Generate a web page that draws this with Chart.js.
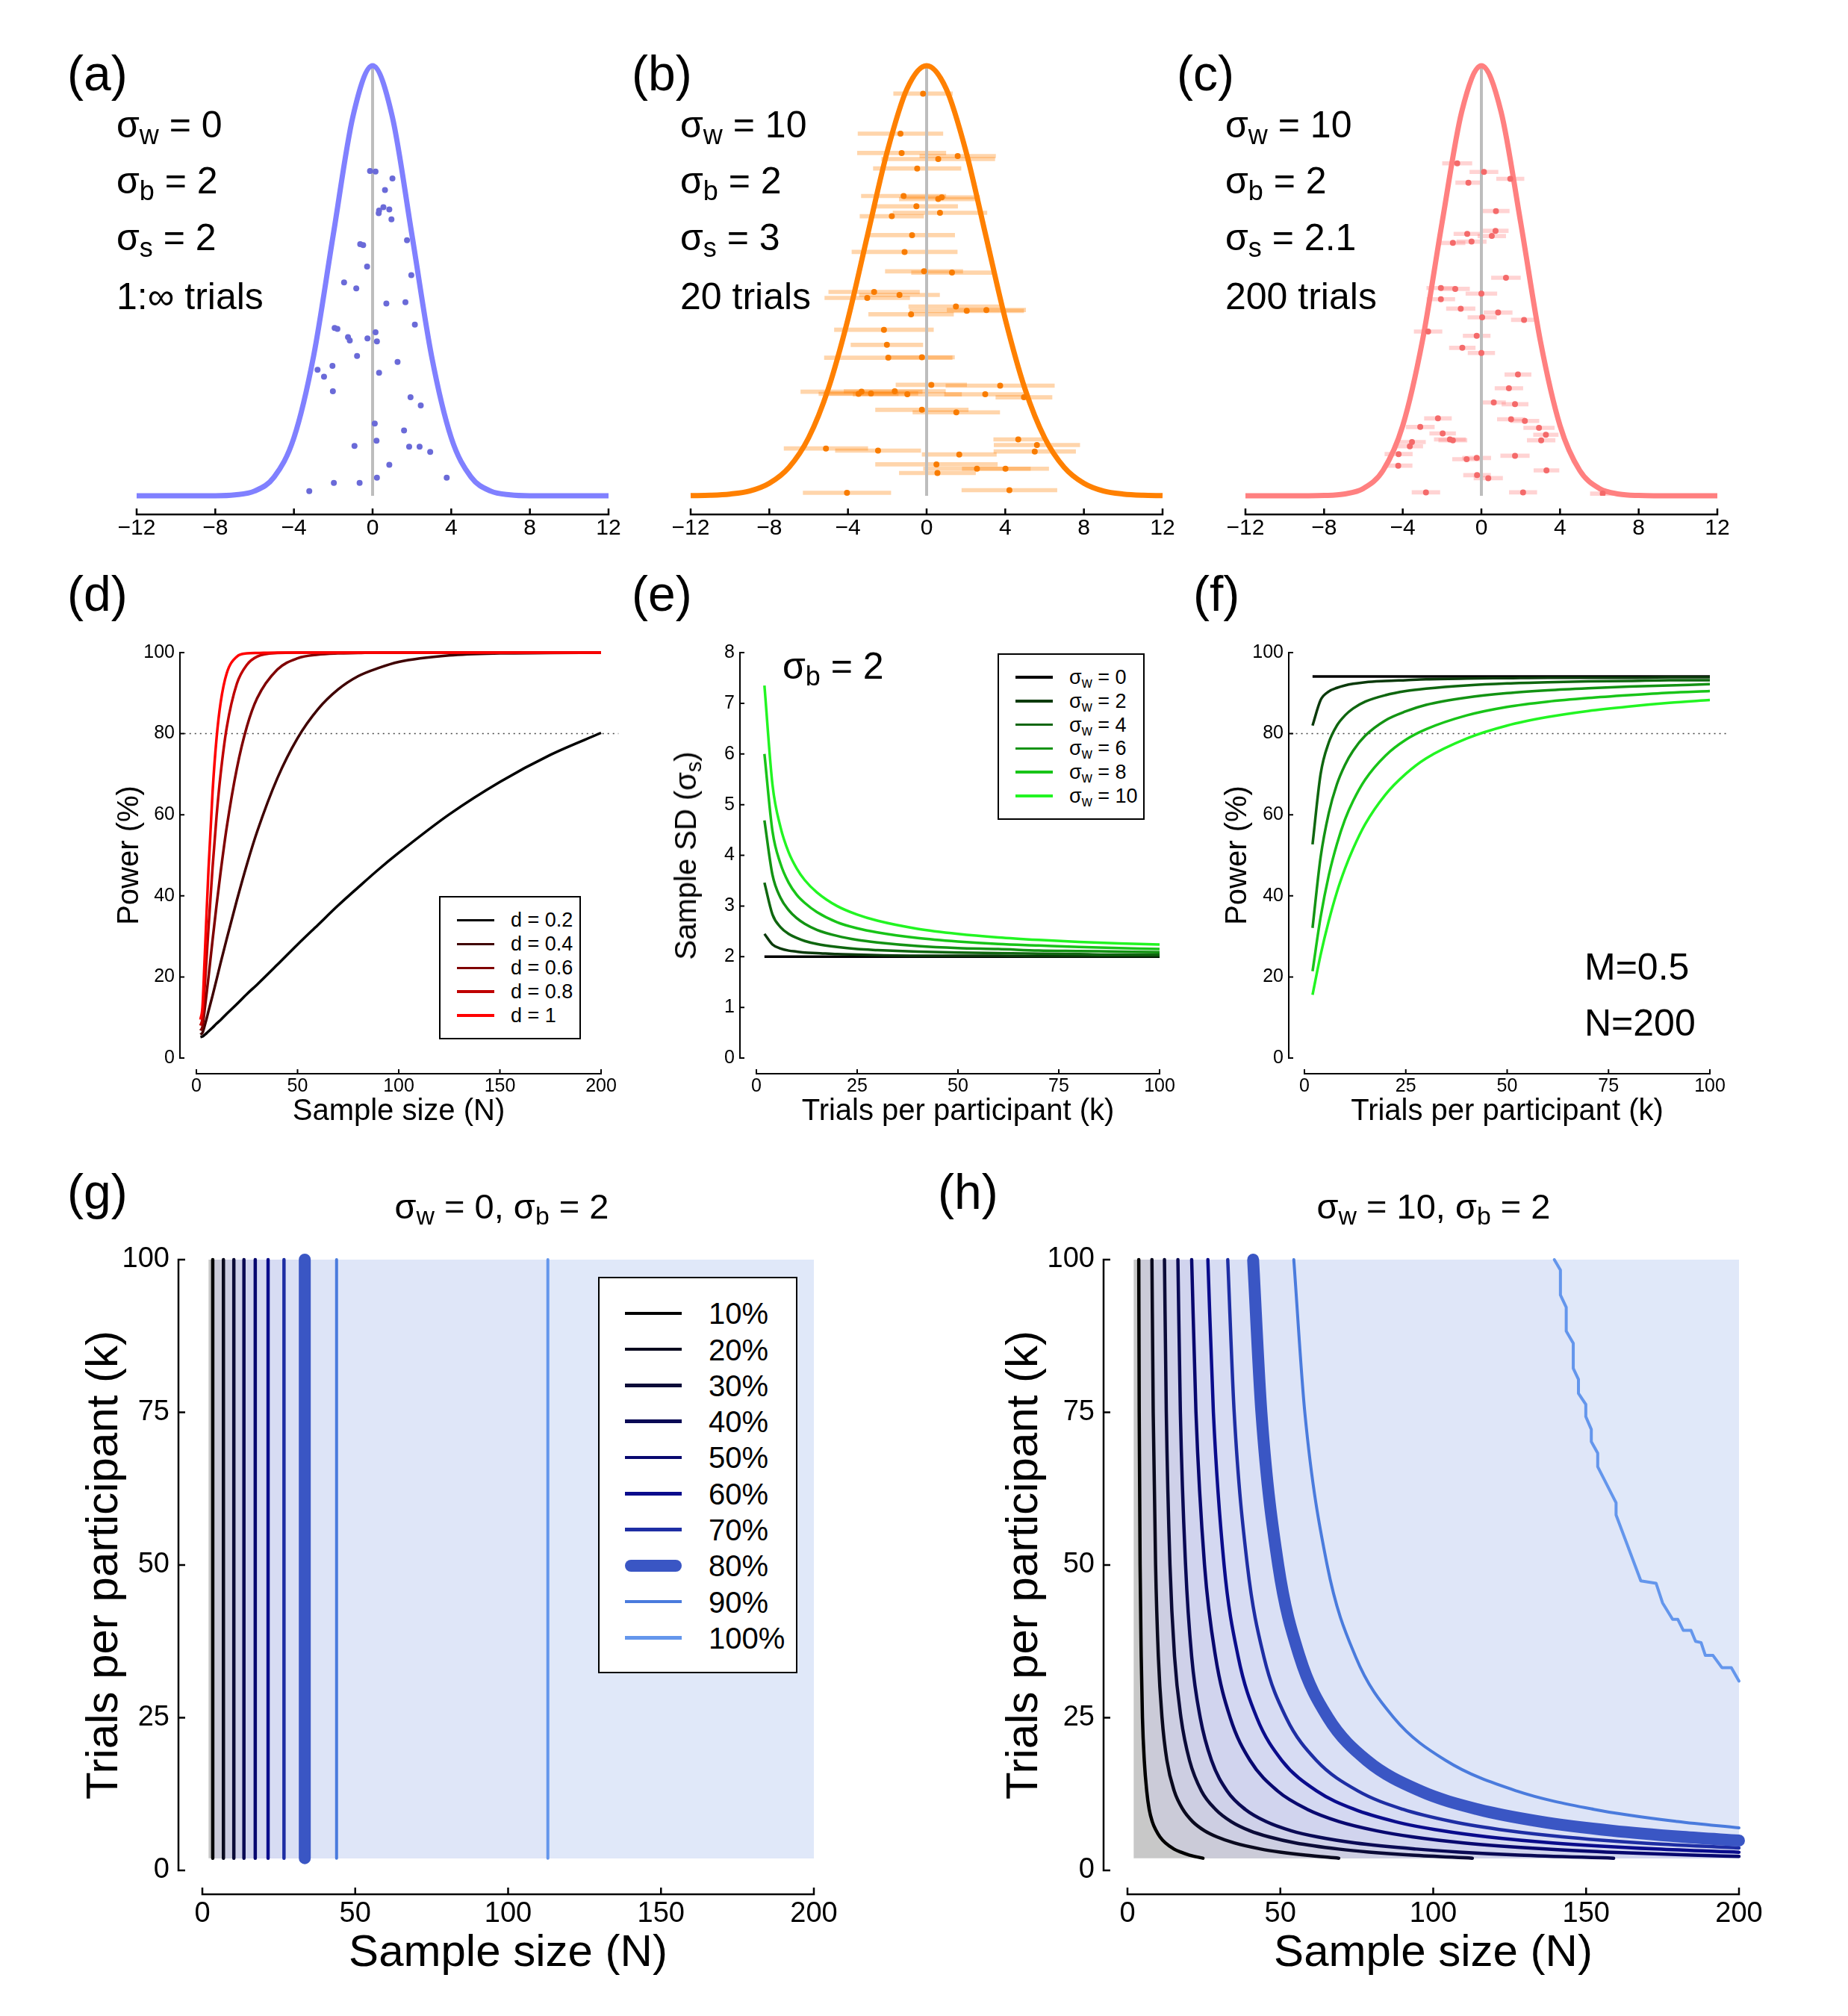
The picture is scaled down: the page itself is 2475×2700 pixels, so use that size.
<!DOCTYPE html>
<html>
<head>
<meta charset="utf-8">
<script src="https://cdn.jsdelivr.net/npm/chart.js@4.4.1/dist/chart.umd.min.js"></script>
<style>
html,body{margin:0;padding:0;background:#fff}
body{width:2475px;height:2700px;position:relative;overflow:hidden;font-family:'Liberation Sans',Arial,Helvetica,sans-serif;color:#000}
canvas{position:absolute;z-index:1}
.t{position:absolute;white-space:nowrap;z-index:4}
.t sub{font-size:.72em;vertical-align:-.25em;line-height:0}
.lg{position:absolute;border-style:solid;border-color:#000;background:#fff;box-sizing:border-box;z-index:2}
.sw{position:absolute;z-index:3}
</style>
</head>
<body>
<script>
// ---------- top row: normalised densities, participant means, error bars ----------
const pdfX = [-12,-11,-10,-9,-8,-7,-6,-5,-4,-3,-2,-1,0,1,2,3,4,5,6,7,8,9,10,11,12];
const pdfA = [0,0,0,0,0,0.002,0.011,0.044,0.135,0.325,0.607,0.882,1,0.882,0.607,0.325,0.135,0.044,0.011,0.002,0,0,0,0,0];
const pdfB = [0.0003,0.0012,0.004,0.011,0.029,0.066,0.135,0.249,0.411,0.607,0.801,0.946,1,0.946,0.801,0.607,0.411,0.249,0.135,0.066,0.029,0.011,0.004,0.0012,0.0003];
const pdfC = [0,0,0,0.0001,0.0007,0.004,0.017,0.059,0.163,0.360,0.635,0.893,1,0.893,0.635,0.360,0.163,0.059,0.017,0.004,0.0007,0.0001,0,0,0];
const topTicks = [-12,-8,-4,0,4,8,12];

const aX = [-0.13,0.15,1.01,0.63,0.33,0.55,0.85,0.31,0.96,1.75,-0.63,-0.48,-0.28,1.97,-1.45,-0.83,0.70,1.67,2.15,-1.93,-1.79,0.15,-1.25,-1.16,-0.26,0.22,-0.79,1.27,-2.80,-2.04,-2.47,0.33,-2.02,1.93,2.45,0.11,1.60,0.20,-0.92,1.86,2.39,2.93,0.85,0.22,3.77,-1.97,-0.66,-3.22];
const aY = [0.755,0.754,0.738,0.711,0.663,0.671,0.666,0.657,0.643,0.594,0.585,0.583,0.533,0.513,0.496,0.482,0.447,0.450,0.398,0.390,0.388,0.380,0.369,0.361,0.366,0.359,0.325,0.311,0.293,0.302,0.277,0.286,0.243,0.229,0.210,0.168,0.152,0.128,0.116,0.114,0.114,0.102,0.072,0.042,0.042,0.030,0.030,0.011];

const bX = [-0.18,-1.33,-1.27,1.58,0.59,-0.48,-1.17,0.77,0.59,-0.52,0.68,-1.77,-0.74,-1.12,-0.13,1.29,-2.67,-1.38,-3.02,1.49,2.04,3.04,-0.79,-2.17,-2.02,-1.95,-0.24,0.24,3.74,-3.31,-3.46,-2.83,-1.62,-0.98,2.98,4.95,-0.24,1.51,4.66,5.61,5.50,-5.12,-2.47,1.66,0.50,2.56,4.01,0.55,-4.05,4.21];
const bY = [0.935,0.842,0.797,0.790,0.783,0.761,0.697,0.694,0.690,0.673,0.658,0.650,0.606,0.567,0.522,0.519,0.474,0.467,0.460,0.440,0.430,0.432,0.422,0.386,0.351,0.321,0.322,0.258,0.256,0.242,0.237,0.238,0.243,0.236,0.236,0.229,0.200,0.194,0.131,0.118,0.103,0.110,0.105,0.096,0.073,0.063,0.063,0.053,0.007,0.013];
const bErr = [1.5,2.16,2.25,1.93,2.88,2.23,2.15,1.93,1.98,2.10,2.39,1.62,2.17,2.68,1.97,2.06,2.31,2.04,2.16,2.40,2.90,2.0,2.16,2.52,1.83,3.25,1.66,1.80,2.76,3.09,2.02,2.39,2.58,2.76,2.07,1.43,2.36,2.21,1.25,2.18,2.08,2.13,2.17,1.89,3.10,2.72,2.20,1.94,2.23,2.42];

const cX = [-1.23,0.13,1.47,-0.66,0.74,0.72,-0.72,0.53,-1.45,-0.50,1.25,-2.06,-1.33,0.00,-2.06,-1.05,0.85,0.04,2.17,-2.71,-0.24,-0.97,0.00,1.86,1.40,0.63,1.71,-2.21,1.51,2.21,-3.11,2.93,-1.97,3.28,-1.60,-1.45,3.04,-3.53,-3.64,-4.21,1.71,-0.24,-0.75,-4.23,3.31,-0.22,0.35,-2.82,2.12,6.17];
const cY = [0.773,0.753,0.737,0.728,0.662,0.616,0.609,0.604,0.588,0.591,0.507,0.483,0.481,0.470,0.457,0.435,0.426,0.415,0.409,0.382,0.372,0.344,0.332,0.282,0.250,0.217,0.213,0.180,0.178,0.174,0.160,0.158,0.145,0.142,0.131,0.129,0.129,0.125,0.115,0.097,0.093,0.088,0.085,0.070,0.059,0.048,0.041,0.008,0.008,0.005];
const cErr = [0.75,0.72,0.70,0.65,0.68,0.65,0.68,0.71,0.62,0.75,0.74,0.72,0.73,0.79,0.71,0.73,0.72,0.73,0.65,0.71,0.69,0.66,0.68,0.67,0.71,0.60,0.67,0.69,0.70,0.72,0.72,0.78,0.66,0.63,0.80,0.72,0.71,0.69,0.66,0.70,0.73,0.72,0.72,0.71,0.64,0.69,0.73,0.71,0.70,0.63];

// ---------- (d) power vs sample size ----------
const dN = [2,3,4,5,6,8,10,12,15,20,25,30,40,50,60,70,80,90,100,125,150,175,200];
const dLabels = ['d = 0.2','d = 0.4','d = 0.6','d = 0.8','d = 1'];
const d02 = [5.2,5.3,5.7,6.1,6.6,7.5,8.5,9.4,10.9,13.3,15.8,18.1,23.0,28.0,32.8,37.6,42.1,46.5,50.6,60.1,68.1,74.8,80.2];
const d04 = [5.8,6.2,7.8,9.6,11.6,15.4,19.4,23.5,29.4,38.9,47.8,55.8,69.0,78.9,86.0,90.9,94.2,96.2,97.7,99.3,99.8,99.9,100];
const d06 = [6.8,7.7,11.5,15.7,20.0,29.1,37.8,45.9,56.9,71.4,81.8,88.7,95.8,98.6,99.5,99.8,99.9,100,100,100,100,100,100];
const d08 = [8.0,9.8,16.7,24.3,32.2,47.0,59.8,70.1,81.5,92.3,97.0,99.0,99.9,100,100,100,100,100,100,100,100,100,100];
const d10 = [9.5,12.5,23.4,35.2,46.6,65.6,79.0,87.7,94.9,99.0,99.8,99.9,100,100,100,100,100,100,100,100,100,100,100];
const dColors = ['#000000','#3f0000','#7f0000','#bf0000','#ff0000'];

// ---------- (e)/(f) trials per participant ----------
const kVals = [2,4,6,8,10,12,15,20,25,30,40,50,60,70,80,90,100];
const wLabels = ['0','2','4','6','8','10'];
const e0 = [2,2,2,2,2,2,2,2,2,2,2,2,2,2,2,2,2];
const e2 = [2.45,2.24,2.16,2.12,2.10,2.08,2.07,2.05,2.04,2.03,2.02,2.02,2.02,2.01,2.01,2.01,2.01];
const e4 = [3.46,2.83,2.58,2.45,2.37,2.31,2.25,2.19,2.15,2.13,2.10,2.08,2.07,2.06,2.05,2.04,2.04];
const e6 = [4.69,3.61,3.16,2.92,2.76,2.65,2.53,2.41,2.33,2.28,2.21,2.17,2.15,2.12,2.11,2.10,2.09];
const e8 = [6.00,4.47,3.83,3.46,3.22,3.06,2.88,2.68,2.56,2.48,2.37,2.30,2.25,2.22,2.19,2.17,2.15];
const e10 = [7.35,5.39,4.55,4.06,3.74,3.51,3.27,3.00,2.83,2.71,2.55,2.45,2.38,2.33,2.29,2.26,2.24];
const f0 = [94.1,94.1,94.1,94.1,94.1,94.1,94.1,94.1,94.1,94.1,94.1,94.1,94.1,94.1,94.1,94.1,94.1];
const f2 = [82.0,88.3,90.4,91.3,91.9,92.3,92.7,93.0,93.2,93.4,93.6,93.7,93.8,93.8,93.8,93.9,93.9];
const f4 = [52.7,70.1,77.8,82.0,84.5,86.2,87.9,89.5,90.5,91.1,91.9,92.4,92.7,92.9,93.0,93.2,93.2];
const f6 = [32.1,49.6,60.4,67.5,72.3,75.8,79.5,83.3,85.5,87.1,88.9,90.0,90.7,91.2,91.6,91.9,92.2];
const f8 = [21.4,34.8,45.0,52.7,58.8,63.4,68.7,74.6,78.5,81.1,84.5,86.6,87.9,88.8,89.5,90.1,90.5];
const f10 = [15.6,25.5,33.8,40.9,46.7,51.6,57.7,65.0,70.1,73.9,78.8,82.0,84.1,85.6,86.7,87.6,88.3];
const gColors = ['#000000','#0b3a0b','#0f660f','#139313','#18c418','#22f522'];

// ---------- (g)/(h) power contours ----------
const levels = ['10%','20%','30%','40%','50%','60%','70%','80%','90%','100%'];
const gN = [3.4,6.9,10.3,13.6,17.3,21.5,26.7,33.5,43.9,113.0];
const h10 = [[3.7,100],[3.84,75],[4.13,50],[4.5,35],[4.9,25],[5.5,18],[6.3,13],[7.1,10],[8.1,8],[9.4,6.5],[10.6,5.5],[12.4,4.5],[15.2,3.5],[17.4,3],[20.3,2.5],[24.7,2]];
const h20 = [[8.0,100],[8.42,75],[9.2,50],[10.1,35],[11.3,25],[12.9,18],[15.3,13],[18.1,10],[21.3,8],[25.2,6.5],[29.2,5.5],[34.9,4.5],[43.6,3.5],[49.9,3],[58.2,2.5],[69.1,2]];
const h30 = [[12.1,100],[12.7,75],[13.9,50],[15.4,35],[17.5,25],[20.3,18],[24.2,13],[28.8,10],[33.9,8],[40.0,6.5],[46.2,5.5],[55.0,4.5],[69.0,3.5],[79.0,3],[93.0,2.5],[112.8,2]];
const h40 = [[16.5,100],[17.3,75],[19.0,50],[21.0,35],[23.8,25],[27.5,18],[32.6,13],[38.5,10],[45.3,8],[53.5,6.5],[62.0,5.5],[74.5,4.5],[94.5,3.5],[108.5,3],[128,2.5],[159,2]];
const h50 = [[21.0,100],[22.4,75],[25.2,50],[28.8,35],[33.6,25],[40.1,18],[49.1,13],[58.8,10],[69.2,8],[81.4,6.5],[93.1,5.5],[110,4.5],[136.7,3.5],[156.6,3],[184.6,2.5],[200,2.29]];
const h60 = [[26.3,100],[28.1,75],[31.6,50],[36.2,35],[42.3,25],[50.5,18],[61.9,13],[74.2,10],[87.5,8],[102.8,6.5],[117.6,5.5],[139.1,4.5],[172.9,3.5],[200,2.97]];
const h70 = [[32.8,100],[34.9,75],[39.2,50],[44.6,35],[51.9,25],[61.8,18],[75.4,13],[90.1,10],[106.1,8],[124.4,6.5],[142.2,5.5],[168,4.5],[200,3.67]];
const h80 = [[41.1,100],[43.8,75],[49.3,50],[56.3,35],[65.6,25],[78.3,18],[95.8,13],[114.6,10],[135,8],[158.6,6.5],[181.5,5.5],[200,4.89]];
const h90 = [[54.4,100],[58.0,75],[65.3,50],[74.6,35],[87.1,25],[104.1,18],[127.3,13],[152.5,10],[179.8,8],[200,6.97]];
const h100 = [[139.6,100],[141.6,98.3],[141.6,94.2],[143.5,92.2],[143.5,88.3],[145.8,86.3],[145.8,82.2],[147.5,80.4],[147.5,78.1],[149.9,76.3],[149.9,74.3],[151.7,72.2],[151.7,70.2],[153.8,68.3],[153.8,66.1],[159.8,60.2],[159.8,58.2],[167.9,47.4],[172.9,47.0],[175,43.8],[178.3,41.1],[180,41.1],[181.8,39.3],[184.3,39.3],[185.8,37.5],[187.6,37.3],[189,35.2],[191.5,35.2],[194.4,33.2],[197.5,33.2],[200,31]];
const lvlColors = ['#000000','#0a0a1e','#0b0b38','#0a0a55','#08086f','#0a0c8c','#1e2ea4','#3a56c4','#4a7bdd','#6496ec'];
const bandColors = ['#c8c8c8','#cbcbd8','#cdcee2','#cfd1e9','#d1d4ee','#d4d8f1','#d7dcf3','#dae0f5','#dde4f7','#dfe6f8','#e0e8f9'];

// ---------- helpers ----------
Chart.defaults.font.family = "'Liberation Sans', Arial, Helvetica, sans-serif";
Chart.defaults.color = '#000';

const PAD = 100;

function place(a, yw, xh) {
  const c = document.createElement('canvas');
  const w = a.r - a.l + yw + 2*PAD, h = a.b - a.t + xh + 2*PAD;
  c.width = w; c.height = h;
  c.style.left = (a.l - yw - PAD) + 'px';
  c.style.top = (a.t - PAD) + 'px';
  c.style.width = w + 'px'; c.style.height = h + 'px';
  document.body.appendChild(c);
  return c;
}

// axis lines drawn offset from the data area, with inward ticks
function frame(f) {
  return {
    id: 'frame',
    afterDraw(chart) {
      const {ctx, chartArea: a} = chart;
      const sx = chart.scales.x, sy = chart.scales.y;
      ctx.save();
      ctx.strokeStyle = '#000';
      ctx.lineWidth = f.lw;
      ctx.beginPath();
      if (f.x) {
        const yy = a.bottom + f.x.off, t = f.x.ticks;
        ctx.moveTo(sx.getPixelForValue(t[0]) - f.lw/2, yy);
        ctx.lineTo(sx.getPixelForValue(t[t.length-1]) + f.lw/2, yy);
        t.forEach(v => { const p = sx.getPixelForValue(v); ctx.moveTo(p, yy); ctx.lineTo(p, yy - f.tick); });
      }
      if (f.y) {
        const xx = a.left - f.y.off, t = f.y.ticks;
        ctx.moveTo(xx, sy.getPixelForValue(t[0]) + f.lw/2);
        ctx.lineTo(xx, sy.getPixelForValue(t[t.length-1]) - f.lw/2);
        t.forEach(v => { const p = sy.getPixelForValue(v); ctx.moveTo(xx, p); ctx.lineTo(xx + f.tick, p); });
      }
      ctx.stroke();
      ctx.restore();
    }
  };
}

function scale(ticks, o) {
  return {
    type: 'linear', display: o.display !== false, offset: false,
    min: ticks[0], max: ticks[ticks.length-1],
    border: {display: false}, grid: {display: false, drawTicks: false, offset: false},
    ticks: {font: {size: o.size || 20}, padding: o.pad || 0, color: '#000', autoSkip: false, maxRotation: 0,
            callback: v => (v < 0 ? '\u2212' + (-v) : '' + v)},
    afterBuildTicks: s => { s.ticks = ticks.map(v => ({value: v})); },
    afterFit: s => { if (o.fit != null) s[o.fitKey] = o.fit; },
    title: o.title ? {display: true, text: o.title, font: {size: o.titleSize}, color: '#000', padding: 0} : {display: false}
  };
}

function makeChart(a, yw, xh, datasets, xs, ys, f) {
  const cv = place(a, yw, xh);
  return new Chart(cv, {
    type: 'scatter',
    data: {datasets},
    options: {
      responsive: false, devicePixelRatio: 1, animation: false, events: [],
      layout: {padding: PAD},
      plugins: {legend: {display: false}, tooltip: {enabled: false}},
      scales: {x: xs, y: ys}
    },
    plugins: [frame(f)]
  });
}

function txt(html, x, base, size, center) {
  const d = document.createElement('div');
  d.className = 't';
  d.innerHTML = html;
  d.style.fontSize = size + 'px';
  d.style.lineHeight = size + 'px';
  d.style.top = (base - 0.8465*size) + 'px';
  d.style.left = x + 'px';
  if (center) d.style.transform = 'translateX(-50%)';
  document.body.appendChild(d);
  return d;
}

function legend(box, bw, rows) {
  const d = document.createElement('div');
  d.className = 'lg';
  Object.assign(d.style, {left: box.l + 'px', top: box.t + 'px', width: (box.r - box.l) + 'px',
    height: (box.b - box.t) + 'px', borderWidth: bw + 'px'});
  document.body.appendChild(d);
  rows.forEach(r => {
    const s = document.createElement('div');
    s.className = 'sw';
    Object.assign(s.style, {left: r.x0 + 'px', top: (r.y - r.w/2) + 'px', width: (r.x1 - r.x0) + 'px',
      height: r.w + 'px', background: r.color, borderRadius: r.round ? (r.w/2) + 'px' : '0'});
    document.body.appendChild(s);
    txt(r.html, r.tx, r.y + 0.358*r.size, r.size);
  });
}

const pts = (xs, ys) => xs.map((x, i) => ({x, y: ys[i]}));

// ---------- top row ----------
function topPanel(a, curve, color, dotColor, mx, my, err, barColor) {
  const ds = [];
  if (err) ds.push({type: 'bar', indexAxis: 'y', order: 3, borderWidth: 0, barThickness: 5,
    backgroundColor: barColor, data: mx.map((x, i) => ({y: my[i], x: [x - err[i], x + err[i]]}))});
  ds.push({order: 2, showLine: true, pointRadius: 0, borderColor: '#bdbdbd', borderWidth: 4, clip: false,
    data: [{x: 0, y: 0}, {x: 0, y: 1}]});
  ds.push({order: 1, showLine: true, pointRadius: 0, borderColor: color, borderWidth: 7, clip: false,
    cubicInterpolationMode: 'monotone', data: pts(pdfX, curve)});
  ds.push({order: 0, showLine: false, pointRadius: 4, pointBorderWidth: 0, pointBackgroundColor: dotColor,
    data: pts(mx, my)});
  makeChart(a, 0, 70, ds,
    scale(topTicks, {size: 30, pad: 26, fitKey: 'height', fit: 70}),
    scale([0, 1], {display: false}),
    {lw: 2.5, tick: 8, x: {off: 25, ticks: topTicks}});
}

topPanel({l: 183, r: 815, t: 88, b: 664}, pdfA, '#8080ff', '#6a6ad8', aX, aY, null, null);
topPanel({l: 925, r: 1557, t: 88, b: 664}, pdfB, '#ff8000', '#f97c00', bX, bY, bErr, 'rgba(255,128,0,0.33)');
topPanel({l: 1668, r: 2300, t: 88, b: 664}, pdfC, '#ff8080', '#f46a6a', cX, cY, cErr, 'rgba(255,110,110,0.3)');

// ---------- middle row ----------
const midX200 = [0, 50, 100, 150, 200];
const midX100 = [0, 25, 50, 75, 100];
const pctTicks = [0, 20, 40, 60, 80, 100];
const sdTicks = [0, 1, 2, 3, 4, 5, 6, 7, 8];

function curveSet(xs, series, colors, width) {
  return series.map((s, i) => ({order: series.length - i, showLine: true, pointRadius: 0, borderColor: colors[i],
    borderWidth: width, clip: false, cubicInterpolationMode: 'monotone', data: pts(xs, s)}));
}
function dotted(x0, x1) {
  return {order: 99, showLine: true, pointRadius: 0, borderColor: '#444', borderWidth: 1.5, borderDash: [2, 5],
    clip: false, data: [{x: x0, y: 80}, {x: x1, y: 80}]};
}

// (d)
makeChart({l: 263, r: 805, t: 874, b: 1417}, 113, 96,
  [dotted(-6, 208.6)].concat(curveSet(dN, [d02, d04, d06, d08, d10], dColors, 3.5)),
  scale(midX200, {size: 25, pad: 23, fitKey: 'height', fit: 96, title: 'Sample size (N)', titleSize: 40}),
  scale(pctTicks, {size: 25, pad: 29, fitKey: 'width', fit: 113, title: 'Power (%)', titleSize: 40}),
  {lw: 2, tick: 6, x: {off: 21, ticks: midX200}, y: {off: 22, ticks: pctTicks}});

// (e)
makeChart({l: 1013, r: 1553, t: 874, b: 1417}, 100, 96,
  curveSet(kVals, [e0, e2, e4, e6, e8, e10], gColors, 3.5),
  scale(midX100, {size: 25, pad: 23, fitKey: 'height', fit: 96, title: 'Trials per participant (k)', titleSize: 40}),
  scale(sdTicks, {size: 25, pad: 29, fitKey: 'width', fit: 100}),
  {lw: 2, tick: 6, x: {off: 21, ticks: midX100}, y: {off: 22, ticks: sdTicks}});

// (f)
makeChart({l: 1747, r: 2290, t: 874, b: 1417}, 113, 96,
  [dotted(-3.4, 104.6)].concat(curveSet(kVals, [f0, f2, f4, f6, f8, f10], gColors, 3.5)),
  scale(midX100, {size: 25, pad: 23, fitKey: 'height', fit: 96, title: 'Trials per participant (k)', titleSize: 40}),
  scale(pctTicks, {size: 25, pad: 28, fitKey: 'width', fit: 113, title: 'Power (%)', titleSize: 40}),
  {lw: 2, tick: 6, x: {off: 21, ticks: midX100}, y: {off: 21, ticks: pctTicks}});

// ---------- bottom row: filled contours ----------
const nTicks = [0, 50, 100, 150, 200];
const kTicks = [0, 25, 50, 75, 100];

function contourPanel(a, yw, curves, smooth) {
  const ds = [];
  ds.push({order: 40, showLine: true, pointRadius: 0, borderWidth: 0, fill: 'end', backgroundColor: bandColors[0],
    data: [{x: 2, y: 2}, {x: 200, y: 2}]});
  curves.forEach((c, i) => {
    const poly = c.slice();
    if (poly[poly.length - 1][0] < 200) poly.push([200, 2]);
    const mode = smooth && i < 9 ? 'monotone' : 'default';
    ds.push({order: 39 - i, showLine: true, pointRadius: 0, borderWidth: 0, fill: 'end',
      backgroundColor: bandColors[i + 1], cubicInterpolationMode: mode,
      data: poly.map(p => ({x: p[0], y: p[1]}))});
    ds.push({order: i === 7 ? 0 : 10 - i, showLine: true, pointRadius: 0, borderColor: lvlColors[i],
      borderWidth: i === 7 ? 16 : (i >= 8 ? 4 : 4.5), borderCapStyle: 'round', borderJoinStyle: 'round',
      clip: false, cubicInterpolationMode: mode, data: c.map(p => ({x: p[0], y: p[1]}))});
  });
  makeChart(a, yw, 147, ds,
    scale(nTicks, {size: 38, pad: 36, fitKey: 'height', fit: 147, title: 'Sample size (N)', titleSize: 60}),
    scale(kTicks, {size: 38, pad: 44, fitKey: 'width', fit: yw, title: 'Trials per participant (k)', titleSize: 60}),
    {lw: 2.5, tick: 9, x: {off: 32, ticks: nTicks}, y: {off: 32, ticks: kTicks}});
}

contourPanel({l: 271, r: 1090, t: 1687, b: 2505}, 167, gN.map(n => [[n, 100], [n, 2]]), false);
contourPanel({l: 1510, r: 2329, t: 1687, b: 2505}, 174, [h10, h20, h30, h40, h50, h60, h70, h80, h90, h100], true);

// ---------- text ----------
const S = s => 'σ<sub>' + s + '</sub>';
[['(a)', 90], ['(b)', 846], ['(c)', 1576]].forEach(p => txt(p[0], p[1], 121, 66));
[['(d)', 90], ['(e)', 846], ['(f)', 1598]].forEach(p => txt(p[0], p[1], 818, 66));
[['(g)', 90], ['(h)', 1256]].forEach(p => txt(p[0], p[1], 1619, 66));

const notes = [
  [156, [S('w') + ' = 0', S('b') + ' = 2', S('s') + ' = 2', '1:∞ trials']],
  [911, [S('w') + ' = 10', S('b') + ' = 2', S('s') + ' = 3', '20 trials']],
  [1641, [S('w') + ' = 10', S('b') + ' = 2', S('s') + ' = 2.1', '200 trials']]
];
const noteBase = [184, 259.5, 335, 414];
notes.forEach(n => n[1].forEach((h, i) => txt(h, n[0], noteBase[i], 50)));

txt(S('b') + ' = 2', 1048, 909, 50);
txt('M=0.5', 2122, 1312, 50);
txt('N=200', 2122, 1387, 50);

const yt = txt('Sample SD (' + S('s') + ')', 917.6, 0, 40);
Object.assign(yt.style, {top: '1145.5px', left: '917.6px', transform: 'translate(-50%,-50%) rotate(-90deg)'});

txt(S('w') + ' = 0, ' + S('b') + ' = 2', 672, 1632, 47, true);
txt(S('w') + ' = 10, ' + S('b') + ' = 2', 1920, 1632, 47, true);

// ---------- legends ----------
legend({l: 588, r: 778, t: 1200, b: 1392}, 2,
  dLabels.map((l, i) => ({html: l, color: dColors[i], w: 3.5, x0: 612, x1: 662, tx: 684, y: 1232.5 + 31.9*i, size: 27})));
legend({l: 1336, r: 1533, t: 875, b: 1098}, 2,
  wLabels.map((l, i) => ({html: S('w') + ' = ' + l, color: gColors[i], w: 3.5, x0: 1360, x1: 1410, tx: 1432, y: 907.2 + 31.75*i, size: 27})));
legend({l: 801, r: 1068, t: 1710, b: 2241}, 2.5,
  levels.map((l, i) => ({html: l, color: lvlColors[i], w: i === 7 ? 16 : 4.5, round: i === 7,
    x0: 837, x1: 913, tx: 949, y: 1758.8 + 48.29*i, size: 40})));
</script>
</body>
</html>
